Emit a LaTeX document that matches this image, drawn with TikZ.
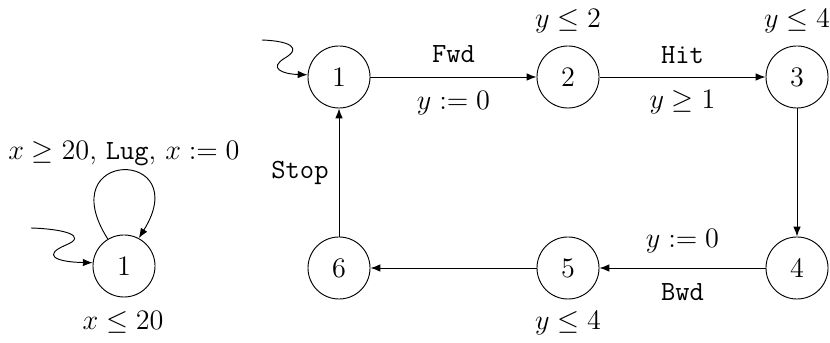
\documentclass[tikz,border=0pt]{standalone}
\usetikzlibrary{arrows.meta}
\begin{document}
\begin{tikzpicture}[x=0.4255pt,y=-0.4255pt,
  every node/.style={font=\fontsize{11.8}{14}\selectfont},
  state/.style={draw,circle,minimum size=26.4pt,inner sep=0pt},
  inv/.style={inner sep=0.5pt},
  arr/.style={-{Latex[length=4.2pt,width=3.2pt]}},
  tt/.style={font=\fontsize{11.8}{14}\selectfont\ttfamily}]
\useasboundingbox (0,0) rectangle (830,343);
% left automaton
\node[state] (L) at (124,266) {$1$};
\node[inv] (Linv) at (123,322) {$x\leq 20$};
\coordinate (Ls) at (31,228);
\draw[arr] (Ls) .. controls (65,229) and (88,236) .. (66,245)
  .. controls (42,255) and (55,262) .. (L.174);
\draw[arr] (L.121) .. controls (50,148) and (195,148) .. (L.62);
\node[inv] (Llab) at (124,154) {$x\geq 20$, \texttt{Lug}, $x:=0$};
% right automaton
\node[state] (n1) at (339,77) {$1$};
\node[state] (n2) at (568,77) {$2$};
\node[state] (n3) at (797,77) {$3$};
\node[state] (n4) at (797,268) {$4$};
\node[state] (n5) at (568,268) {$5$};
\node[state] (n6) at (339,268) {$6$};
\node[inv] (i2) at (568,21) {$y\leq 2$};
\node[inv] (i3) at (797,21) {$y\leq 4$};
\node[inv] (i5) at (568,323) {$y\leq 4$};
\coordinate (s1) at (262,40);
\draw[arr] (s1) .. controls (290,41) and (302,48) .. (285,58)
  .. controls (268,68) and (282,74) .. (n1.176);
\draw[arr] (n1) -- node[midway,tt,yshift=9.8pt] {Fwd} node[midway,yshift=-11pt] {$y:=0$} (n2);
\draw[arr] (n2) -- node[midway,tt,yshift=9.4pt] {Hit} node[midway,yshift=-10.6pt] {$y\geq 1$} (n3);
\draw[arr] (n3) -- (n4);
\draw[arr] (n4) -- node[midway,yshift=11.5pt] {$y:=0$} node[midway,tt,yshift=-10.2pt] {Bwd} (n5);
\draw[arr] (n5) -- (n6);
\draw[arr] (n6) -- node[midway,tt,xshift=-16.6pt] {Stop} (n1);
\end{tikzpicture}
\end{document}
